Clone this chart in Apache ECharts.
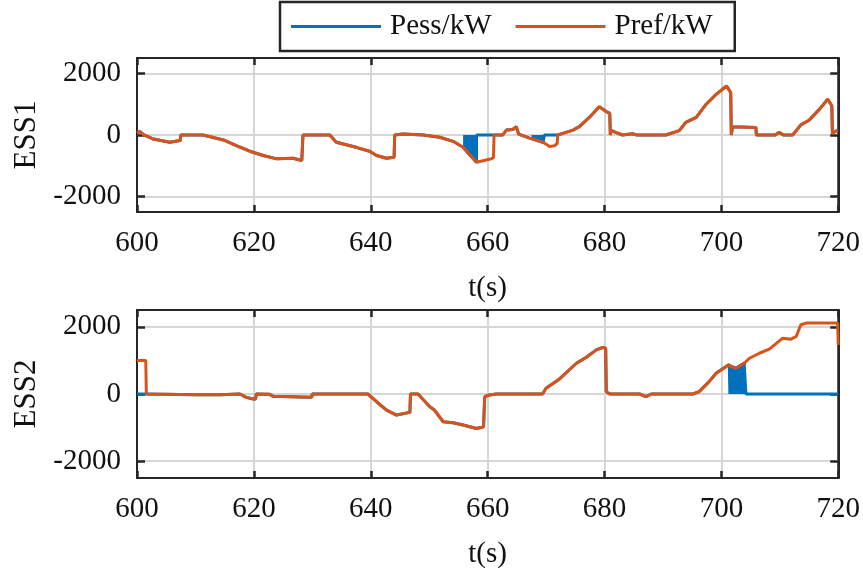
<html>
<head>
<meta charset="utf-8" />
<style>
  html, body { margin: 0; padding: 0; background: #fff; }
  #chart { width: 863px; height: 571px; }
</style>
<script src="https://cdn.jsdelivr.net/npm/echarts@6/dist/echarts.min.js"></script>
</head>
<body>
<div id="chart"></div>
<script type="text/javascript">
// ESS1 reference power
var ess1Time = [600, 600.5, 601.1, 602.8, 605.6, 607.4, 607.5, 611.3, 614.8, 617, 619.3, 621.6, 623.9, 626.7, 628.2, 628.4,
  633, 634.1, 637.5, 639.8, 641, 642.7, 644, 644.1, 645.5, 649, 651.8, 654.1, 655.8, 658.1, 660.3, 661, 661.1, 662.6,
  663.2, 664.3, 664.9, 665.3, 667.2, 667.5, 669.5, 669.7, 670.6, 671.5, 671.9, 672, 673.4, 674.6, 675.7, 677.4, 679.1,
  680.3, 680.9, 681, 681.1, 682, 683.1, 684.8, 685.5, 690.5, 692.8, 693.9, 695.7, 697.4, 699.1, 700.9, 701.6, 701.7,
  701.9, 705.9, 706, 709.2, 709.9, 710.6, 712.2, 713.6, 715, 716.8, 718.2, 718.9, 719, 719.9, 720];
var ess1Pref = [80, 110, 10, -130, -235, -180, 0, 0, -160, -345, -527, -667, -774, -753, -828, 0,
  0, -235, -400, -527, -667, -753, -720, 0, 30, 0, -75, -205, -400, -882, -790, -740, 0, 0,
  160, 180, 270, 30, -100, -110, -235, -255, -375, -345, -270, 0, 85, 160, 270, 570, 915,
  760, 700, 0, 150, 80, 0, 40, 0, 0, 140, 410, 570, 1000, 1320, 1590, 1375, 0,
  270, 245, 0, 0, 85, 0, 0, 330, 480, 840, 1160, 950, 50, 160, 160];

// ESS1 Pess where it leaves Pref: [from, to, times, values]
var ess1PessGaps = [
  [658.1, 661.1, [658.1, 658.1, 661.1], [-882, 0, 0]],
  [669.7, 672, [669.7, 669.7, 672], [-255, 0, 0]]
];
// ESS1 Pess dense switching bands (drawn filled)
var ess1BandTime = [[655.8, 658.1], [667.5, 669.5, 669.7]];
var ess1BandVal = [[-400, -882], [-110, -235, -255]];

// ESS2 reference power (lower panel)
var ess2Time = [600, 601.5, 601.6, 610.2, 614.2, 617.6, 618.7, 619.9, 620.3, 620.4, 622.7, 623.3, 627.9, 629.9, 630,
  639.5, 641, 642.7, 644.4, 646.7, 646.8, 648.1, 650.1, 650.9, 652.4, 654.1, 655.8, 658.1, 659.3, 659.5, 660.3, 661.5,
  669.4, 670, 672.3, 675.2, 676.9, 678.6, 679.6, 680.2, 680.3, 680.9, 686, 687.1, 688, 695.1, 696.2, 697.9, 699.1,
  701.2, 701.7, 702.5, 703.9, 704.2, 704.8, 706.5, 708.2, 710.5, 711.9, 712.8, 713.6, 714.5, 719.9, 720];
var ess2Pref = [1000, 1000, 0, -20, -20, 0, -100, -150, -150, 0, -10, -70, -90, -100, 0,
  0, -230, -478, -627, -547, 0, 0, -378, -478, -826, -856, -925, -1025, -975, -80, -30, 0,
  0, 170, 448, 915, 1095, 1313, 1383, 1360, 70, 0, 0, -80, 0, 0, 70, 368, 617,
  866, 815, 766, 915, 930, 1064, 1213, 1333, 1661, 1632, 1711, 2060, 2110, 2110, 1463];

var ess2PessGaps = [
  [600, 601.5, [600, 601.6], [0, 0]],
  [704.2, 720, [704.2, 704.2, 720], [930, 0, 0]]
];
var ess2BandTime = [[701.1, 701.2, 701.7, 702.5, 703.9, 704.2]];
var ess2BandVal = [[866, 866, 815, 766, 915, 930]];

var yTicks = [-2000, 0, 2000];
var legendNames = ['Pess/kW', 'Pref/kW'];

var blue = '#0072BD', orange = '#D95319', ink = '#262626';
var font = 'Liberation Serif';

function pairs(t, v) {
  return t.map(function (x, i) { return [x, v[i]]; });
}

// Pess = Pref except inside the gap windows
function pessFrom(t, v, gaps) {
  var out = [];
  for (var i = 0; i < t.length; i++) {
    var inGap = gaps.some(function (g) { return t[i] >= g[0] && t[i] <= g[1]; });
    if (!inGap) out.push([t[i], v[i]]);
    gaps.forEach(function (g) {
      if (t[i] === g[0] || (i > 0 && t[i - 1] < g[0] && t[i] > g[0])) {
        g[2].forEach(function (x, k) { out.push([x, g[3][k]]); });
      }
    });
  }
  out.sort(function (a, b) { return a[0] - b[0]; });
  return out;
}

var chart = echarts.init(document.getElementById('chart'));

function xAx(grid, bottom) {
  return {
    type: 'value', gridIndex: grid, min: 600, max: 720, interval: 20,
    position: bottom ? 'bottom' : 'top',
    name: bottom ? 't(s)' : '', nameLocation: 'middle', nameGap: 62,
    nameTextStyle: { fontFamily: font, fontSize: 29, color: '#111' },
    axisLine: { show: true, onZero: false, lineStyle: { color: ink, width: 2 } },
    axisTick: { show: true, inside: true, length: 7, lineStyle: { color: ink, width: 2.5 } },
    axisLabel: { show: bottom, margin: 17, fontFamily: font, fontSize: 29, color: '#111' },
    splitLine: { show: bottom, lineStyle: { color: '#d6d6d6', width: 2 } }
  };
}
function yAx(grid, left, name) {
  return {
    type: 'value', gridIndex: grid, min: -2500, max: 2500,
    position: left ? 'left' : 'right',
    name: left ? name : '', nameLocation: 'middle', nameRotate: 90, nameGap: 90,
    nameTextStyle: { fontFamily: font, fontSize: 31, color: '#111' },
    axisLine: { show: true, onZero: false, lineStyle: { color: ink, width: 2 } },
    axisTick: { show: true, inside: true, length: 8, customValues: yTicks, lineStyle: { color: ink, width: 2.5 } },
    axisLabel: {
      show: left, margin: 16, customValues: yTicks, fontFamily: font, fontSize: 29, color: '#111',
      formatter: function (v) { return String(v); }
    },
    splitLine: { show: left, lineStyle: { color: '#d6d6d6', width: 2 } }
  };
}

function line(name, data, color, axis) {
  return {
    name: name, type: 'line', data: data, xAxisIndex: axis, yAxisIndex: axis,
    symbol: 'none', silent: true, animation: false,
    lineStyle: { color: color, width: 3 }, itemStyle: { color: color }
  };
}
function bands(times, vals, axis) {
  return times.map(function (t, i) {
    var s = line('band', pairs(t, vals[i]), blue, axis);
    s.areaStyle = { color: blue, opacity: 1 };
    return s;
  });
}

var series = []
  .concat(bands(ess1BandTime, ess1BandVal, 0))
  .concat([line('Pess/kW', pessFrom(ess1Time, ess1Pref, ess1PessGaps), blue, 0),
           line('Pref/kW', pairs(ess1Time, ess1Pref), orange, 0)])
  .concat(bands(ess2BandTime, ess2BandVal, 2))
  .concat([line('Pess/kW', pessFrom(ess2Time, ess2Pref, ess2PessGaps), blue, 2),
           line('Pref/kW', pairs(ess2Time, ess2Pref), orange, 2)]);

chart.setOption({
  backgroundColor: '#fff',
  animation: false,
  legend: {
    data: legendNames, left: 280, top: 2,
    icon: 'rect', itemWidth: 90, itemHeight: 3, itemGap: 24,
    padding: [10, 22, 10, 11],
    borderColor: ink, borderWidth: 2.5,
    textStyle: { fontFamily: font, fontSize: 29, color: '#111', padding: [0, 0, 0, 4] }
  },
  grid: [
    { left: 137, right: 24, top: 58, height: 154, show: true, borderColor: ink, borderWidth: 2 },
    { left: 137, right: 24, top: 310, height: 168, show: true, borderColor: ink, borderWidth: 2 }
  ],
  xAxis: [xAx(0, true), xAx(0, false), xAx(1, true), xAx(1, false)],
  yAxis: [yAx(0, true, 'ESS1'), yAx(0, false), yAx(1, true, 'ESS2'), yAx(1, false)],
  series: series
});
</script>
</body>
</html>
